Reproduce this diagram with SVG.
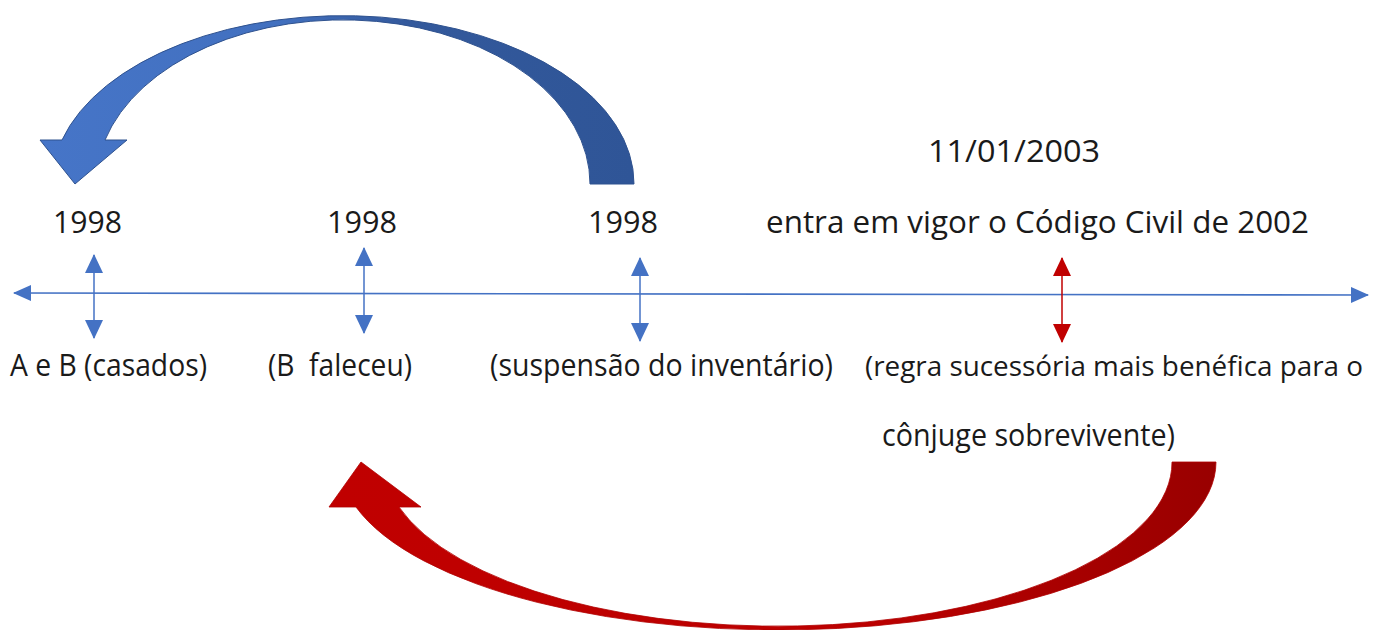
<svg xmlns="http://www.w3.org/2000/svg" width="1374" height="630" viewBox="0 0 1374 630">
  <style>
    .t { font-family: "Open Sans", "Liberation Sans", sans-serif; font-size: 31px; fill: #1a1a1a; }
    .axis { stroke: #4472C4; stroke-width: 1.6; fill: none; }
    .tick { stroke: #4472C4; stroke-width: 1.5; fill: none; }
    .tickred { stroke: #C00000; stroke-width: 1.5; fill: none; }
  </style>
  <defs>
    <marker id="ah" markerUnits="userSpaceOnUse" viewBox="0 0 18 16" markerWidth="18" markerHeight="16" refX="17" refY="8" orient="auto-start-reverse">
      <path d="M0,0 L18,8 L0,16 z" fill="#4472C4"/>
    </marker>
    <marker id="tb" markerUnits="userSpaceOnUse" viewBox="0 0 19 18" markerWidth="19" markerHeight="18" refX="18" refY="9" orient="auto-start-reverse">
      <path d="M0,0 L19,9 L0,18 z" fill="#4472C4"/>
    </marker>
    <marker id="tr" markerUnits="userSpaceOnUse" viewBox="0 0 19 18" markerWidth="19" markerHeight="18" refX="18" refY="9" orient="auto-start-reverse">
      <path d="M0,0 L19,9 L0,18 z" fill="#C00000"/>
    </marker>
    <linearGradient id="gb" gradientUnits="userSpaceOnUse" x1="40" y1="0" x2="634" y2="0">
      <stop offset="0" stop-color="#4675C8"/>
      <stop offset="0.4" stop-color="#4270BF"/>
      <stop offset="0.62" stop-color="#33599C"/>
      <stop offset="1" stop-color="#2F5597"/>
    </linearGradient>
    <linearGradient id="gr" gradientUnits="userSpaceOnUse" x1="330" y1="0" x2="1216" y2="0">
      <stop offset="0" stop-color="#C00000"/>
      <stop offset="0.6" stop-color="#BC0000"/>
      <stop offset="1" stop-color="#990000"/>
    </linearGradient>
  </defs>

  <g id="connectors">
    <line class="axis" x1="14" y1="293" x2="1368" y2="295" marker-start="url(#ah)" marker-end="url(#ah)"/>
    <line class="tick" x1="94" y1="255" x2="94" y2="338" marker-start="url(#tb)" marker-end="url(#tb)"/>
    <line class="tick" x1="364" y1="248" x2="364" y2="333" marker-start="url(#tb)" marker-end="url(#tb)"/>
    <line class="tick" x1="640" y1="258" x2="640" y2="341" marker-start="url(#tb)" marker-end="url(#tb)"/>
    <line class="tickred" x1="1062" y1="258" x2="1062" y2="342" marker-start="url(#tr)" marker-end="url(#tr)"/>
    <path id="blue-curved-arrow" d="M634,184 A291 168 0 0 0 62,140 L40,140 L75,184 L127,140 L105,140 A247 164 0 0 1 590,184 Z" fill="url(#gb)" stroke="#2F528F" stroke-width="1"/>
    <path id="red-curved-arrow" d="M1216,462 A438 168 0 0 1 356,507 L329,507 L361,462 L421,507 L399,507 A394 164 0 0 0 1172,462 Z" fill="url(#gr)" stroke="#B00000" stroke-width="0.8"/>
  </g>

  <g id="node-casados">
    <text class="t" x="53" y="233" textLength="69" lengthAdjust="spacingAndGlyphs">1998</text>
    <text class="t" x="10" y="376" textLength="197" lengthAdjust="spacingAndGlyphs">A e B (casados)</text>
  </g>
  <g id="node-faleceu">
    <text class="t" x="327" y="233" textLength="70" lengthAdjust="spacingAndGlyphs">1998</text>
    <text class="t" x="268" y="376" textLength="144" lengthAdjust="spacingAndGlyphs" xml:space="preserve">(B  faleceu)</text>
  </g>
  <g id="node-suspensao">
    <text class="t" x="588" y="233" textLength="70" lengthAdjust="spacingAndGlyphs">1998</text>
    <text class="t" x="490" y="376" textLength="343" lengthAdjust="spacingAndGlyphs">(suspensão do inventário)</text>
  </g>
  <g id="node-codigo">
    <text class="t" x="928" y="162" textLength="172" lengthAdjust="spacingAndGlyphs">11/01/2003</text>
    <text class="t" x="766" y="233" textLength="543" lengthAdjust="spacingAndGlyphs">entra em vigor o Código Civil de 2002</text>
    <text class="t" x="865" y="376" textLength="498" lengthAdjust="spacingAndGlyphs" style="font-size:28px">(regra sucessória mais benéfica para o</text>
    <text class="t" x="882" y="446" textLength="293" lengthAdjust="spacingAndGlyphs">cônjuge sobrevivente)</text>
  </g>
</svg>
